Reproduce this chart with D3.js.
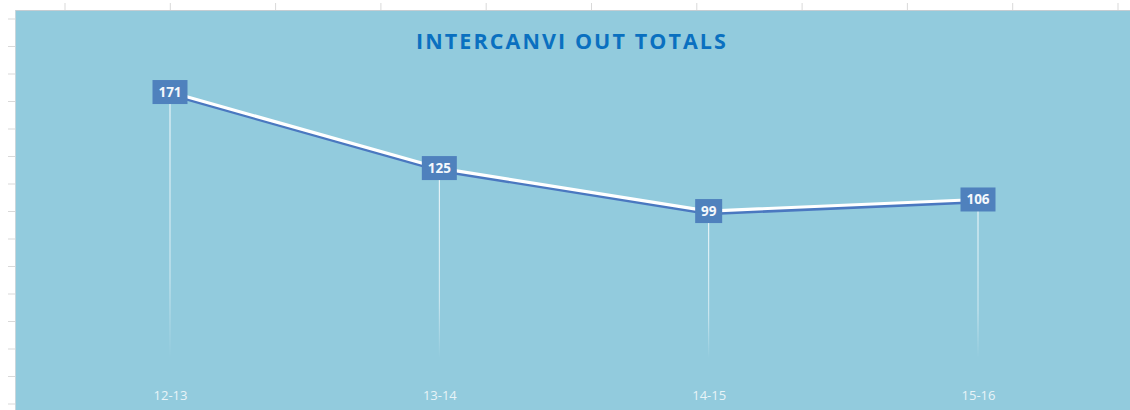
<!DOCTYPE html>
<html><head><meta charset="utf-8">
<script src="https://cdn.jsdelivr.net/npm/d3@7"></script>
<style>
html,body{margin:0;padding:0;background:#fff;}
svg{display:block;}
</style></head>
<body>
<svg id="chart" width="1130" height="410"></svg>
<script>
const categories = ["12-13", "13-14", "14-15", "15-16"];
const values = [171, 125, 99, 106];
const title = "INTERCANVI OUT TOTALS";

const W = 1130, H = 410;
const svg = d3.select("#chart");

// spreadsheet background grid ticks
const colTicks = d3.range(11).map(i => 65 + i * 105.3);
const rowTicks = d3.range(15).map(i => 19 + i * 27.5);
svg.selectAll(".ct").data(colTicks).enter().append("line")
  .attr("x1", d => d).attr("x2", d => d).attr("y1", 3).attr("y2", 10)
  .attr("stroke", "#d9d9d9").attr("stroke-width", 1);
svg.selectAll(".rt").data(rowTicks).enter().append("line")
  .attr("x1", 8).attr("x2", 15).attr("y1", d => d).attr("y2", d => d)
  .attr("stroke", "#d9d9d9").attr("stroke-width", 1);

// chart panel
svg.append("rect").attr("x", 15).attr("y", 10).attr("width", W - 15).attr("height", H - 10)
  .attr("fill", "#92cbdd");
svg.append("line").attr("x1", 15).attr("x2", W).attr("y1", 10.5).attr("y2", 10.5)
  .attr("stroke", "#c5cdd2").attr("stroke-width", 1);
svg.append("line").attr("x1", 15.5).attr("x2", 15.5).attr("y1", 10).attr("y2", H)
  .attr("stroke", "#c8d6dc").attr("stroke-width", 1);

const x = d3.scalePoint().domain(categories).range([170, 978]);
const y = d3.scaleLinear().domain([0, 180]).range([374.7, 374.7 - 180 * 1.653]);

const defs = svg.append("defs");
const grad = defs.append("linearGradient").attr("id", "drop").attr("x1", 0).attr("x2", 0).attr("y1", 0).attr("y2", 1);
grad.append("stop").attr("offset", "0%").attr("stop-color", "#ffffff").attr("stop-opacity", 0.95);
grad.append("stop").attr("offset", "70%").attr("stop-color", "#ffffff").attr("stop-opacity", 0.6);
grad.append("stop").attr("offset", "100%").attr("stop-color", "#ffffff").attr("stop-opacity", 0);

// title
const t = svg.append("text").attr("x", 572).attr("y", 48.5).attr("text-anchor", "middle")
  .attr("font-family", "Open Sans, sans-serif").attr("font-weight", 700).attr("font-size", 21.5)
  .attr("fill", "#0a70c0").text(title);
const tl = t.node().getComputedTextLength();
t.attr("letter-spacing", (310 - tl) / (title.length - 1) + "px");

// drop lines
const data = categories.map((c, i) => ({c, v: values[i]}));
svg.selectAll(".drop").data(data).enter().append("rect")
  .attr("x", d => x(d.c) - 0.5).attr("width", 1)
  .attr("y", d => y(d.v)).attr("height", d => 358 - y(d.v))
  .attr("fill", "url(#drop)");

// line with shadow
const line = d3.line().x(d => x(d.c)).y(d => y(d.v));
svg.append("path").datum(data).attr("d", line).attr("fill", "none")
  .attr("stroke", "#4a78c0").attr("stroke-width", 3.6).attr("transform", "translate(0.5,2.3)")
  .attr("stroke-linejoin", "round");
svg.append("path").datum(data).attr("d", line).attr("fill", "none")
  .attr("stroke", "#ffffff").attr("stroke-width", 3.2).attr("stroke-linejoin", "round");

// data labels
const lab = svg.selectAll(".lab").data(data).enter().append("g")
  .attr("transform", d => `translate(${x(d.c)},${y(d.v)})`);
lab.append("rect").attr("x", d => d.v >= 100 ? -17.5 : -13.5).attr("width", d => d.v >= 100 ? 35 : 27)
  .attr("y", -12).attr("height", 24).attr("fill", "#4f81bd");
lab.append("text").attr("text-anchor", "middle").attr("y", 5)
  .attr("font-family", "Open Sans, sans-serif").attr("font-weight", 700).attr("font-size", 13.5)
  .attr("fill", "#f4f8fc").text(d => d.v);

// category axis
const xAxis = svg.append("g").attr("transform", "translate(0,375)")
  .call(d3.axisBottom(x).tickSize(0).tickPadding(0));
xAxis.select(".domain").remove();
xAxis.selectAll("text").attr("dy", 0).attr("y", 25)
  .attr("font-family", "Open Sans, sans-serif").attr("font-size", 13).attr("fill", "#e8f4f8");
</script>
</body></html>
